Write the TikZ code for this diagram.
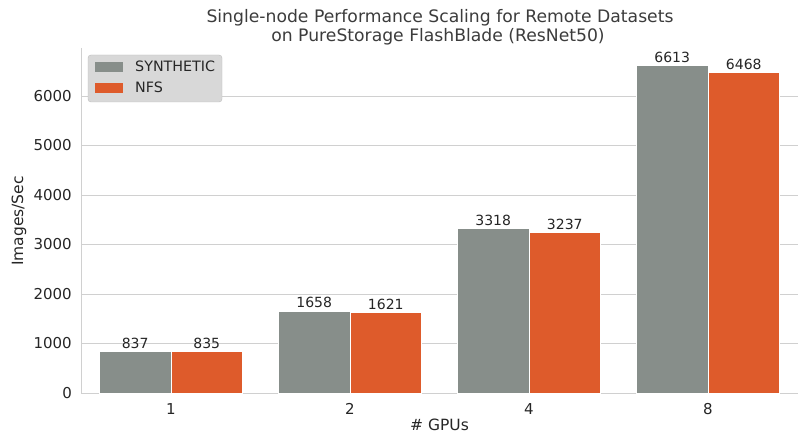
\documentclass[tikz,border=0pt]{standalone}
\usepackage{fontspec}
\setmainfont{DejaVu Sans}
\definecolor{synth}{RGB}{135,142,138}
\definecolor{nfs}{RGB}{222,91,43}
\definecolor{gridc}{RGB}{208,208,208}
\definecolor{txt}{RGB}{38,38,38}
\definecolor{legfill}{RGB}{216,216,216}
\definecolor{legdraw}{RGB}{190,190,190}
\begin{document}
\begin{tikzpicture}[x=1pt,y=-1pt,
  tick/.style={text=txt,inner sep=0pt,font=\fontsize{15}{18}\selectfont},
  barlab/.style={text=txt,inner sep=0pt,anchor=base,font=\fontsize{14}{17}\selectfont},
  axlab/.style={text=txt,inner sep=0pt,font=\fontsize{15.5}{18}\selectfont},
  titlelab/.style={text=txt!90!white,inner sep=0pt,anchor=base,font=\fontsize{17.2}{20}\selectfont},
  barbox/.style={draw=white,line width=0.8pt},
  gridline/.style={draw=gridc,line width=0.9pt}]
\useasboundingbox (0,0) rectangle (801,435);
\fill[white] (0,0) rectangle (801,435);
% grid
\foreach \v in {1,...,6}{
  \draw[gridline] (81.5,{393-\v*49.5}) -- (797.5,{393-\v*49.5});
  \node[tick,anchor=east] (yt\v) at (72,{393-\v*49.5}) {\v000};
}
\node[tick,anchor=east] (yt0) at (72,393) {0};
% spines
\coordinate (top) at (81.5,48);
\coordinate (orig) at (81.5,393);
\coordinate (right) at (797.5,393);
\draw[gridline] (top) -- (orig) -- (right);
% bars
\foreach \c/\g/\a/\b [count=\i] in {171/1/837/835, 350/2/1658/1621, 529/4/3318/3237, 708/8/6613/6468}{
  \fill[synth,barbox] ({\c-71.6},393) rectangle (\c,{393-\a*0.0495});
  \fill[nfs,barbox] (\c,393) rectangle ({\c+71.6},{393-\b*0.0495});
  \node[barlab] (la\i) at ({\c-35.8},{393-\a*0.0495-3.5}) {\a};
  \node[barlab] (lb\i) at ({\c+35.8},{393-\b*0.0495-3.5}) {\b};
  \node[tick,anchor=base] (xt\i) at (\c,415) {\g};
}
% axis labels
\node[axlab,anchor=base] (xlab) at (439.5,431) {\# GPUs};
\node[axlab,rotate=90] (ylab) at (19,221) {Images/Sec};
% title
\node[titlelab] (title1) at (440,22.5) {Single-node Performance Scaling for Remote Datasets};
\node[titlelab] (title2) at (438,41.5) {on PureStorage FlashBlade (ResNet50)};
% legend
\node[draw=legdraw,fill=legfill,rounded corners=3pt,minimum width=134pt,minimum height=47pt,inner sep=0pt] (legend) at (155,78.5) {};
\fill[synth] (95,62) rectangle (123,72);
\fill[nfs] (95,83) rectangle (123,93);
\node[text=txt,inner sep=0pt,anchor=base west,font=\fontsize{14.3}{17}\selectfont] (l1) at (135,72) {SYNTHETIC};
\node[text=txt,inner sep=0pt,anchor=base west,font=\fontsize{14.3}{17}\selectfont] (l2) at (135,93) {NFS};
\end{tikzpicture}
\end{document}
